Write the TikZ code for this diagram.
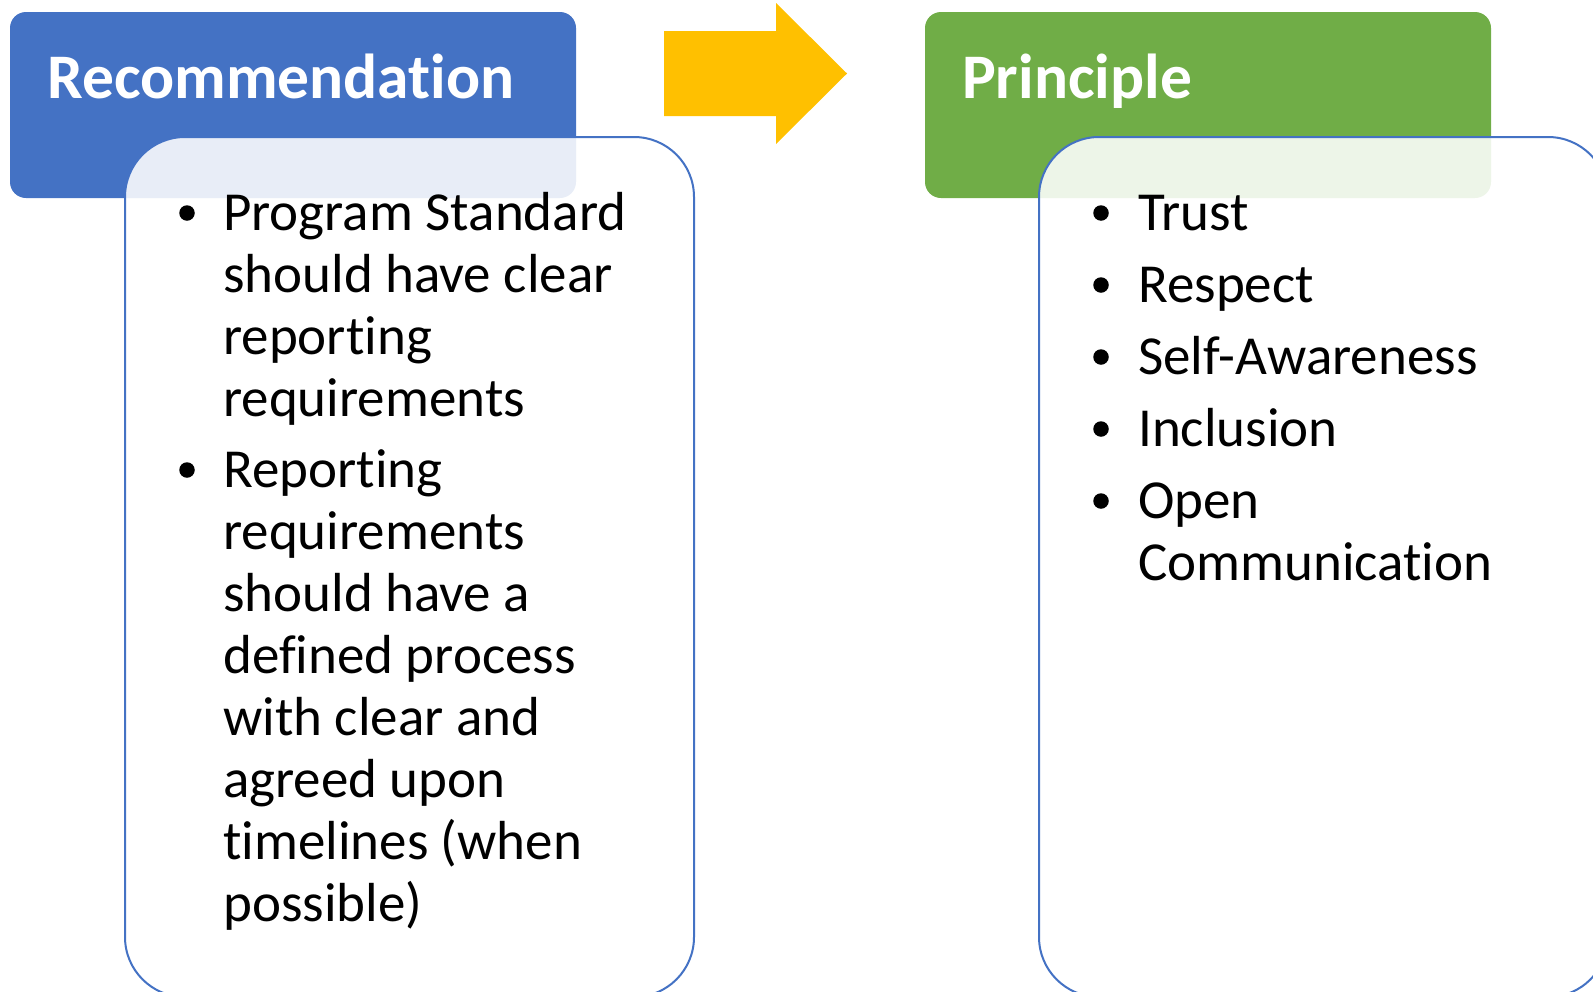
\documentclass[tikz,border=0pt]{standalone}
\usepackage{fontspec}
\setmainfont{Carlito}[Ligatures={NoCommon}]
\definecolor{hdrblue}{HTML}{4472C4}
\definecolor{hdrgreen}{HTML}{70AD47}
\definecolor{arrowyellow}{HTML}{FFC000}
\newcommand\itemlines[1]{\parbox[t]{480pt}{\raggedright\fontsize{55}{62}\selectfont #1}}
\begin{document}
\begin{tikzpicture}[x=1pt,y=-1pt,
  header/.style={draw=none, rounded corners=16pt, minimum width=566pt, minimum height=186pt, inner sep=0pt},
  titletext/.style={anchor=base west, inner sep=0pt, text=white, font=\fontsize{63.5}{70}\selectfont\bfseries},
  listbox/.style={draw=hdrblue, line width=2pt, fill=white, fill opacity=0.88, rounded corners=60pt, minimum width=569pt, minimum height=860pt, inner sep=0pt},
  bulletdot/.style={circle, fill=black, draw=none, minimum size=15.5pt, inner sep=0pt},
  itemtext/.style={anchor=base west, inner sep=0pt, text=black}
]
\useasboundingbox (0,0) rectangle (1593,991);
% headers
\node[header, fill=hdrblue] (rechdr) at (293,105) {};
\node[header, fill=hdrgreen] (prihdr) at (1208,105) {};
\node[titletext] (rectitle) at (47,98) {Recommendation};
\node[titletext] (prititle) at (962,98) {Principle};
% arrow
\fill[arrowyellow] (664,31) -- (776,31) -- (776,3) -- (847,73.5) -- (776,144) -- (776,116) -- (664,116) -- cycle;
% list boxes
\node[listbox] (recbox) at (409.5,567) {};
\node[listbox] (pribox) at (1323.5,567) {};
% left items
\node[bulletdot] (rb1) at (187,213) {};
\node[itemtext] (ri1) at (223,230) {\itemlines{Program Standard\\should have clear\\reporting\\requirements}};
\node[bulletdot] (rb2) at (187,470) {};
\node[itemtext] (ri2) at (223,487) {\itemlines{Reporting\\requirements\\should have a\\defined process\\with clear and\\agreed upon\\timelines (when\\possible)}};
% right items
\node[bulletdot] (pb1) at (1101,213) {};
\node[itemtext] (pi1) at (1138,230) {\itemlines{Trust}};
\node[bulletdot] (pb2) at (1101,285) {};
\node[itemtext] (pi2) at (1138,302) {\itemlines{Respect}};
\node[bulletdot] (pb3) at (1101,357) {};
\node[itemtext] (pi3) at (1138,374) {\itemlines{Self-Awareness}};
\node[bulletdot] (pb4) at (1101,429) {};
\node[itemtext] (pi4) at (1138,446) {\itemlines{Inclusion}};
\node[bulletdot] (pb5) at (1101,501) {};
\node[itemtext] (pi5) at (1138,518) {\itemlines{Open\\Communication}};
\end{tikzpicture}
\end{document}
